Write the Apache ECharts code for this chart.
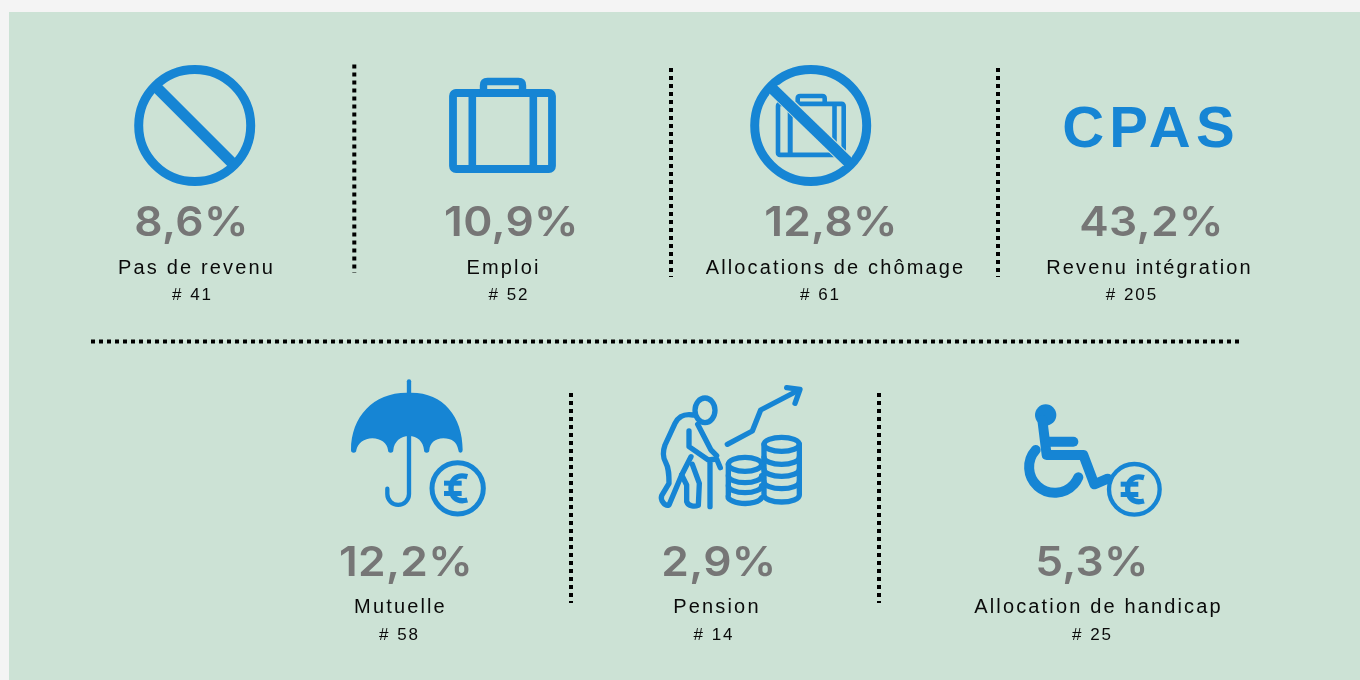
<!DOCTYPE html>
<html lang="fr">
<head>
<meta charset="UTF-8"/>
<script src="https://cdn.jsdelivr.net/npm/echarts@6/dist/echarts.min.js"></script>
<title>Revenus</title>
<style>html,body{margin:0;padding:0;background:#f4f4f4}</style>
</head>
<body>
<div id="main" style="width:1360px;height:680px"></div>
<script type="text/javascript">
// values
var labels = ['Pas de revenu', 'Emploi', 'Allocations de chômage', 'Revenu intégration', 'Mutuelle', 'Pension', 'Allocation de handicap'];
var percents = [8.6, 10.9, 12.8, 43.2, 12.2, 2.9, 5.3];
var counts = [41, 52, 61, 205, 58, 14, 25];

// layout, the axes below run in page pixels
var percentX = [191.5, 511.5, 831, 1151.5, 406, 719, 1092];
var labelX = [196.5, 503.5, 835.5, 1149.5, 400.5, 717, 1098.5];
var countX = [192.5, 509, 820.5, 1132, 399.5, 714, 1092.5];
var rowOf = [0, 0, 0, 0, 1, 1, 1];
var percentY = [203.5, 543];
var labelY = [258, 597];
var countY = [287.2, 626.5];
var iconAt = [[194.7, 125.5], [502.5, 125.5], [810.7, 125.5], [1151, 160], [330, 370], [645, 375], [1005, 390]];
var separators = [
    [[354.3, 64.5], [354.3, 273]],
    [[671, 68], [671, 277]],
    [[998, 68], [998, 277]],
    [[571, 393], [571, 603]],
    [[879, 393], [879, 603]],
    [[91, 341.5], [1241, 341.5]]
];

var BLUE = '#1685d4', GREY = '#767676', INK = '#0a0a0a', PANEL = '#cce2d5';
var FONT_PERCENT = '600 41px Inter', FONT_LABEL = '20px "Liberation Sans"', FONT_COUNT = '17px "Liberation Sans"', FONT_CPAS = 'bold 58px "Liberation Sans"';

// zrender has no letter spacing option, so set it on the canvas by font size
var tracking = {41: '0.3px', 20: '2.15px', 17: '2px', 58: '5.2px'};
var fillTextOrig = CanvasRenderingContext2D.prototype.fillText;
CanvasRenderingContext2D.prototype.fillText = function (t, x, y, w) {
    var m = /([\d.]+)px/.exec(this.font);
    this.letterSpacing = (m && tracking[parseFloat(m[1])]) || '0px';
    return w === undefined ? fillTextOrig.call(this, t, x, y) : fillTextOrig.call(this, t, x, y, w);
};

function stroke(width, extra) {
    var s = {fill: 'none', stroke: BLUE, lineWidth: width, lineCap: 'round', lineJoin: 'round'};
    for (var k in extra) s[k] = extra[k];
    return s;
}
function path(d, style) {
    return {type: 'path', shape: {pathData: d}, style: style};
}

// euro coin, drawn in 3x crop units
function coin(cx, cy, r, w) {
    return [
        {type: 'circle', shape: {cx: cx, cy: cy, r: r}, style: stroke(w)},
        path('M' + (cx + 29) + ' ' + (cy - 35) + 'C' + (cx - 8) + ' ' + (cy - 45) + ' ' + (cx - 20) + ' ' + (cy - 20) + ' ' + (cx - 20) + ' ' + cy +
            'C' + (cx - 20) + ' ' + (cy + 22) + ' ' + (cx - 6) + ' ' + (cy + 44) + ' ' + (cx + 29) + ' ' + (cy + 35), stroke(16, {lineCap: 'butt'})),
        {type: 'rect', shape: {x: cx - 41, y: cy - 23, width: 53, height: 15}, style: {fill: BLUE}},
        {type: 'rect', shape: {x: cx - 41, y: cy + 8, width: 53, height: 15}, style: {fill: BLUE}}
    ];
}

var icons = [
    // forbidden sign
    function () {
        return [
            {type: 'circle', shape: {cx: 0, cy: 0, r: 56}, style: stroke(9)},
            {type: 'line', shape: {x1: -38, y1: -38, x2: 38, y2: 38}, style: stroke(11, {lineCap: 'butt'})}
        ];
    },
    // briefcase
    function () {
        return [
            {type: 'rect', shape: {x: -49.5, y: -32.5, width: 99, height: 76, r: 3}, style: stroke(7.8)},
            path('M-19 -33V-40Q-19 -44 -15 -44H16Q20 -44 20 -40V-33', stroke(7.4)),
            {type: 'line', shape: {x1: -30.2, y1: -32, x2: -30.2, y2: 43}, style: stroke(7.6, {lineCap: 'butt'})},
            {type: 'line', shape: {x1: 30.8, y1: -32, x2: 30.8, y2: 43}, style: stroke(7.6, {lineCap: 'butt'})}
        ];
    },
    // crossed briefcase
    function () {
        return [
            {type: 'circle', shape: {cx: 0, cy: 0, r: 56}, style: stroke(9)},
            {type: 'rect', shape: {x: -32.7, y: -21.6, width: 65.7, height: 51, r: 2}, style: stroke(4.6)},
            path('M-13 -22V-27Q-13 -29.5 -10.5 -29.5H11.5Q14 -29.5 14 -27V-22', stroke(4.6)),
            {type: 'line', shape: {x1: -20.5, y1: -21, x2: -20.5, y2: 30}, style: stroke(5, {lineCap: 'butt'})},
            {type: 'line', shape: {x1: 23.8, y1: -21, x2: 23.8, y2: 30}, style: stroke(4.6, {lineCap: 'butt'})},
            {type: 'line', shape: {x1: -37, y1: -36, x2: 37, y2: 36}, style: {stroke: PANEL, lineWidth: 13}},
            {type: 'line', shape: {x1: -39, y1: -37.5, x2: 38, y2: 37}, style: stroke(11, {lineCap: 'butt'})}
        ];
    },
    // CPAS lettering
    function () {
        return [{type: 'text', style: {text: 'CPAS', x: 0, y: 0, font: FONT_CPAS, fill: BLUE, align: 'center', verticalAlign: 'bottom'}}];
    },
    // umbrella with coin
    function () {
        return [
            path('M63 240C63 140 130 68 230 68L244 68C340 68 398 140 398 240A6.5 8 0 0 1 385 240C380 215 365 205 340 205C315 205 300 220 298 240A8 8 0 0 1 282 240C280 215 262 198 237 198C212 198 192 215 190 240A8 8 0 0 1 174 240C172 220 152 205 127 205C102 205 84 220 79 240A8 8 0 0 1 63 240Z', {fill: BLUE}),
            path('M237 34V70', stroke(13)),
            path('M237 195V372A32.5 32.5 0 0 1 172 372V356', stroke(13))
        ].concat(coin(383, 355, 77, 15));
    },
    // old man, coins, rising arrow
    function () {
        var s = stroke(16);
        var els = [
            {type: 'ellipse', shape: {cx: 180, cy: 106, rx: 30, ry: 37}, style: s},
            path('M145 120C115 115 100 125 90 145L60 210C52 232 55 250 62 262C72 280 72 300 72 325L50 362C45 375 60 395 72 390L110 300L138 245', s),
            path('M110 300L125 330V380C130 395 150 395 160 391L163 325L142 268', s),
            path('M132 168V215L190 255L215 252L226 278', s),
            path('M158 148L198 225L215 242', s),
            path('M195 265V395', s),
            path('M247 208L322 168L347 105L462 45', s),
            path('M425 38L465 43L450 85', s),
            {type: 'ellipse', shape: {cx: 410, cy: 208, rx: 53, ry: 21}, style: s},
            path('M357 208V360A53 21 0 0 0 463 360V208', s),
            {type: 'ellipse', shape: {cx: 300, cy: 268, rx: 50, ry: 21}, style: s},
            path('M250 268V360A50 21 0 0 0 350 368', s)
        ];
        [247, 283, 320].forEach(function (y) { els.push(path('M357 ' + y + 'A53 21 0 0 0 463 ' + y, s)); });
        [302, 332].forEach(function (y) { els.push(path('M250 ' + y + 'A50 21 0 0 0 350 ' + y, s)); });
        return els;
    },
    // wheelchair with coin
    function () {
        return [
            {type: 'circle', shape: {cx: 122, cy: 75, r: 32}, style: {fill: BLUE}},
            path('M112 90L125 195H235L268 283L308 266', stroke(30)),
            path('M130 155H205', stroke(30)),
            path('M92 180A77 77 0 1 0 220 262', stroke(30))
        ].concat(coin(388, 298, 76, 13));
    }
];
var iconScale = [1, 1, 1, 1, 1 / 3, 1 / 3, 1 / 3];

function text(str, at, font, color, stretch) {
    return {type: 'text', x: at[0], y: at[1], scaleX: stretch || 1, style: {text: str, x: 0, y: 0, font: font, fill: color, align: 'center', verticalAlign: 'top'}};
}

function renderCell(params, api) {
    var i = params.dataIndex, row = rowOf[i];
    var at = api.coord(iconAt[i]);
    return {
        type: 'group',
        children: [
            {type: 'group', x: at[0], y: at[1], scaleX: iconScale[i], scaleY: iconScale[i], children: icons[i]()},
            // the original face is wider than Inter, stretch a little
            text(percents[i].toFixed(1).replace('.', ',') + '%', api.coord([percentX[i], percentY[row]]), FONT_PERCENT, GREY, 1.08),
            text(labels[i], api.coord([labelX[i], labelY[row]]), FONT_LABEL, INK),
            text('# ' + counts[i], api.coord([countX[i], countY[row]]), FONT_COUNT, INK)
        ]
    };
}

function renderSeparator(params, api) {
    var a = api.coord(separators[params.dataIndex][0]), b = api.coord(separators[params.dataIndex][1]);
    return {
        type: 'line',
        shape: {x1: a[0], y1: a[1], x2: b[0], y2: b[1]},
        style: {stroke: '#000', lineWidth: 4, lineDash: [4, 4], lineCap: 'butt'}
    };
}

var myChart = echarts.init(document.getElementById('main'));
myChart.setOption({
    animation: false,
    backgroundColor: '#f4f4f4',
    grid: {left: 9, top: 12, right: 0, bottom: 0, show: true, backgroundColor: PANEL, borderWidth: 0},
    xAxis: {type: 'value', min: 9, max: 1360, show: false},
    yAxis: {type: 'value', min: 12, max: 680, inverse: true, show: false},
    series: [
        {type: 'custom', renderItem: renderSeparator, data: separators.map(function (s, i) { return [i]; }), encode: {x: 0}, clip: false},
        {type: 'custom', renderItem: renderCell, data: labels.map(function (s, i) { return [i]; }), encode: {x: 0}, clip: false}
    ]
});
</script>
</body>
</html>
